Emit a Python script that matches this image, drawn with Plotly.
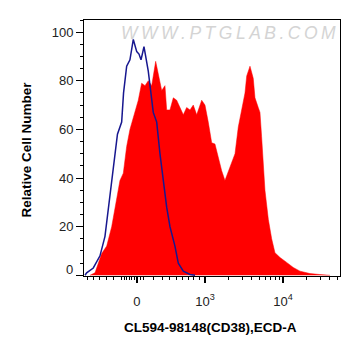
import plotly.graph_objects as go
import numpy as np

# Display scale: biexponential axis expressed in decade units (10^3 -> 3, 10^4 -> 4)
red_x = [1.526, 1.590, 1.676, 1.740, 1.804, 1.868, 1.910, 1.953, 1.996, 2.038,
         2.103, 2.145, 2.188, 2.231, 2.273, 2.317, 2.368, 2.401, 2.445, 2.487,
         2.509, 2.551, 2.594, 2.637, 2.722, 2.765, 2.808, 2.850, 2.894, 2.958,
         3.000, 3.042, 3.086, 3.128, 3.171, 3.214, 3.256, 3.321, 3.385, 3.427,
         3.471, 3.513, 3.535, 3.577, 3.619, 3.641, 3.683, 3.705, 3.726, 3.747,
         3.769, 3.812, 3.855, 3.897, 3.962, 4.047, 4.132, 4.218, 4.346, 4.474, 4.603]
red_y = [0, 1, 9, 12, 20, 31, 39, 42, 53, 60,
         68, 72, 79, 78, 80, 78, 88, 83, 76, 78,
         68, 68, 73, 72, 66, 69, 68, 70, 66, 72,
         70, 63, 54.5, 54, 48, 43, 39, 45, 50, 61,
         69, 75, 82, 86, 81, 73, 69, 67, 57, 46,
         35, 23, 15, 9.3, 7.3, 5.3, 3.2, 1.7, 0.7, 0.3, 0]

blue_x = [1.462, 1.483, 1.568, 1.654, 1.718, 1.760, 1.804, 1.846, 1.878, 1.932,
          1.956, 1.996, 2.038, 2.081, 2.125, 2.154, 2.180, 2.218, 2.273, 2.337,
          2.381, 2.423, 2.465, 2.509, 2.551, 2.615, 2.658, 2.722, 2.808, 2.872]
blue_y = [0, 1, 3, 8, 16, 27, 38, 49, 58, 63,
          75, 86, 88.6, 97, 92, 91, 88.6, 94, 84, 67,
          63, 50, 39, 28, 20, 12, 5, 1.7, 0.3, 0]

x_tick_vals = [2.128, 3, 4]
x_tick_text = ["0", "10<sup>3</sup>", "10<sup>4</sup>"]
y_tick_vals = [0, 20, 40, 60, 80, 100]
y_tick_text = ["", "20", "40", "60", "80", "100"]  # "0" drawn slightly raised below

x_range = [1.449, 4.731]
y_range = [-0.3, 105]

lin_minor = [1.491, 1.568, 1.645, 1.731, 1.824, 1.936, 1.966, 1.997, 2.028,
             2.059, 2.090, 2.167, 2.218, 2.337, 2.453, 2.551, 2.637, 2.714,
             2.786, 2.859, 2.927]
log_minor = [float(np.log10(k * 10 ** d)) for d in (3, 4) for k in range(2, 10)
             if np.log10(k * 10 ** d) < x_range[1]]
minor_vals = lin_minor + log_minor

fig = go.Figure()
fig.add_trace(go.Scatter(x=red_x, y=red_y, mode="lines", fill="tozeroy",
                         fillcolor="#ff0000", line=dict(color="#ff0000", width=0.5),
                         hoverinfo="skip", showlegend=False))
fig.add_trace(go.Scatter(x=blue_x, y=blue_y, mode="lines",
                         line=dict(color="#17178f", width=1.5),
                         showlegend=False))
fig.add_trace(go.Scatter(x=[x_range[0]], y=[0], xaxis="x2", mode="markers",
                         marker=dict(opacity=0), showlegend=False, hoverinfo="skip"))

tick_font = dict(family="Liberation Sans, Arial", size=13, color="#222222")

# page body has an 8px margin; figure sized to fit the 361x356 window
fig.update_layout(
    width=345, height=340,
    margin=dict(l=76, r=13, t=12, b=72),
    paper_bgcolor="white", plot_bgcolor="white",
    xaxis=dict(range=x_range, tickmode="array", tickvals=x_tick_vals, ticktext=x_tick_text,
               ticks="outside", ticklen=6, tickwidth=2, tickcolor="black",
               showline=True, linecolor="black", linewidth=1, mirror=True,
               showgrid=False, zeroline=False, tickfont=tick_font,
               ticklabelstandoff=7),
    xaxis2=dict(range=x_range, overlaying="x", anchor="y", side="bottom",
                tickmode="array", tickvals=minor_vals, ticks="outside", ticklen=3,
                tickwidth=1, tickcolor="black", showticklabels=False,
                showline=False, showgrid=False, zeroline=False),
    yaxis=dict(range=y_range, tickmode="array", tickvals=y_tick_vals, ticktext=y_tick_text,
               ticks="outside", ticklen=7, tickwidth=1, tickcolor="black",
               minor=dict(dtick=5, tick0=0, ticks="outside", ticklen=3, tickcolor="black"),
               showline=True, linecolor="black", linewidth=1, mirror=True,
               showgrid=False, zeroline=False, tickfont=tick_font),
    annotations=[
        dict(text="0", xref="paper", yref="y", x=0, y=y_tick_vals[0],
             xanchor="right", yanchor="middle", xshift=-9, yshift=6,
             showarrow=False, font=tick_font),
        dict(text="<b>Relative Cell Number</b>", xref="paper", yref="paper",
             x=-0.2246, y=0.492, textangle=-90, showarrow=False,
             font=dict(family="Liberation Sans, Arial", size=13.5, color="black"),
             xanchor="center", yanchor="middle"),
        dict(text="<b>CL594-98148(CD38),ECD-A</b>", xref="paper", yref="paper",
             x=0.496, y=-0.203, showarrow=False,
             font=dict(family="Liberation Sans, Arial", size=13.5, color="black"),
             xanchor="center", yanchor="middle"),
        dict(text="W\u2009W\u2009W\u2009.\u2009P\u2009T\u2009G\u2009L\u2009A\u2009B\u2009.\u2009C\u2009O\u2009M",
             xref="paper", yref="paper", x=0.564, y=0.949, showarrow=False,
             font=dict(family="Liberation Sans, Arial", size=17.5, color="#d4d4d4",
                       style="italic"),
             xanchor="center", yanchor="middle"),
    ],
)

fig.write_html("out.html")
